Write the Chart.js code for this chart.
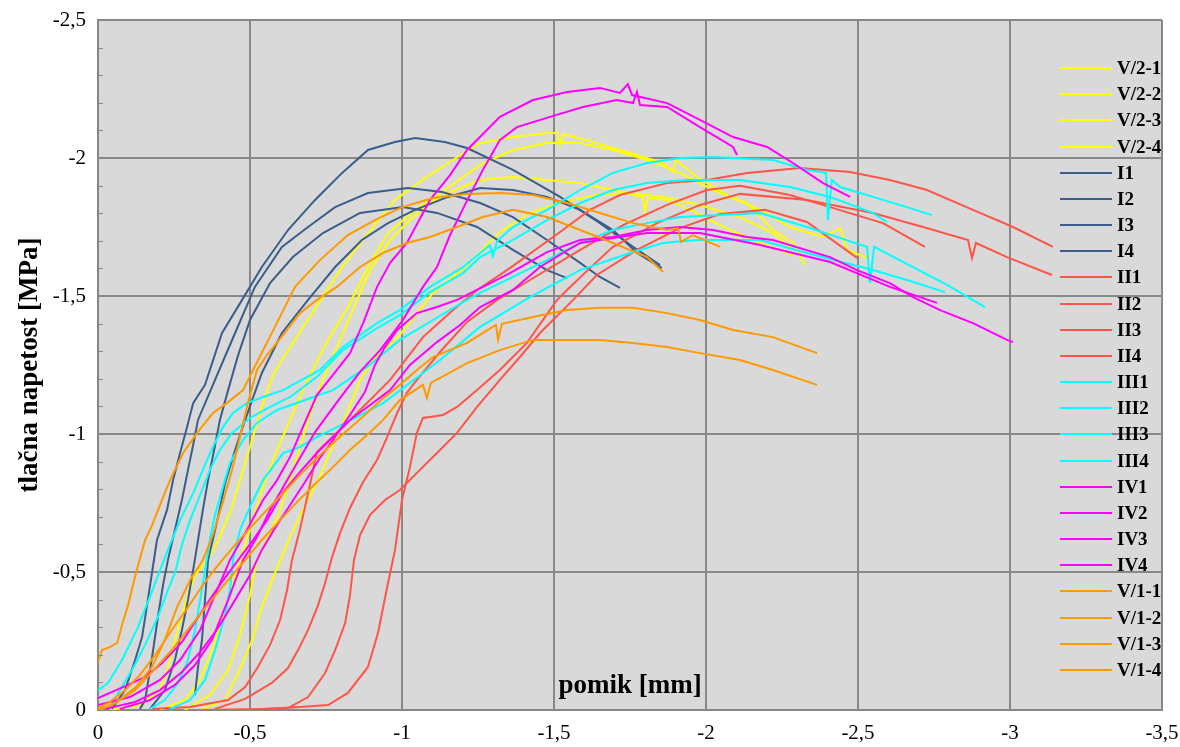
<!DOCTYPE html>
<html lang="sl">
<head>
<meta charset="utf-8">
<title>Tlačna napetost – pomik</title>
<script src="https://cdn.jsdelivr.net/npm/chart.js@4.4.1/dist/chart.umd.min.js"></script>
<style>
  html, body { margin: 0; padding: 0; background: #ffffff; }
  #stressChart { display: block; }
</style>
</head>
<body>
<canvas id="stressChart" width="1180" height="747"></canvas>
<script>
// measured curves, [pomik mm, napetost MPa] (compression is negative)
const V2_1 = [[-0.04,0],[-0.138,-0.018],[-0.204,-0.072],[-0.23,-0.152],[-0.253,-0.254],[-0.286,-0.38],[-0.319,-0.489],[-0.359,-0.543],[-0.391,-0.605],[-0.434,-0.714],[-0.467,-0.833],[-0.5,-0.953],[-0.543,-1.112],[-0.576,-1.214],[-0.605,-1.268],[-0.704,-1.438],[-0.803,-1.605],[-0.888,-1.728],[-0.977,-1.848],[-1.066,-1.92],[-1.151,-1.982],[-1.257,-2.054],[-1.365,-2.076],[-1.477,-2.091],[-1.51,-2.091],[-1.52,-2.047],[-1.53,-2.087],[-1.641,-2.054],[-1.75,-2.018],[-1.859,-1.982],[-1.891,-1.949],[-1.901,-1.993],[-1.97,-1.931],[-2.079,-1.859],[-2.178,-1.812],[-2.276,-1.75],[-2.385,-1.714],[-2.441,-1.746],[-2.464,-1.667],[-2.53,-1.638]];
const V2_2 = [[-0.204,0],[-0.286,-0.036],[-0.336,-0.109],[-0.375,-0.217],[-0.418,-0.362],[-0.457,-0.507],[-0.5,-0.652],[-0.539,-0.797],[-0.582,-0.924],[-0.632,-1.051],[-0.681,-1.178],[-0.747,-1.322],[-0.822,-1.46],[-0.888,-1.605],[-0.954,-1.728],[-1.043,-1.812],[-1.141,-1.884],[-1.257,-1.975],[-1.365,-2.029],[-1.477,-2.054],[-1.586,-2.054],[-1.694,-2.029],[-1.806,-1.993],[-1.914,-1.946],[-2.023,-1.884],[-2.135,-1.837],[-2.22,-1.739],[-2.286,-1.692],[-2.326,-1.612]];
const V2_3 = [[-0.286,0],[-0.368,-0.054],[-0.428,-0.145],[-0.467,-0.272],[-0.5,-0.417],[-0.523,-0.543],[-0.566,-0.641],[-0.599,-0.725],[-0.632,-0.833],[-0.664,-0.953],[-0.697,-1.069],[-0.74,-1.196],[-0.796,-1.341],[-0.845,-1.467],[-0.895,-1.594],[-0.961,-1.703],[-1.026,-1.775],[-1.092,-1.837],[-1.158,-1.877],[-1.257,-1.92],[-1.365,-1.931],[-1.477,-1.92],[-1.586,-1.909],[-1.694,-1.884],[-1.793,-1.859],[-1.799,-1.804],[-1.809,-1.855],[-1.872,-1.848],[-1.97,-1.801],[-2.079,-1.739],[-2.178,-1.692],[-2.286,-1.649]];
const V2_4 = [[-0.336,0],[-0.418,-0.036],[-0.461,-0.134],[-0.507,-0.254],[-0.539,-0.373],[-0.582,-0.496],[-0.632,-0.627],[-0.674,-0.725],[-0.72,-0.822],[-0.763,-0.931],[-0.819,-1.076],[-0.862,-1.196],[-0.905,-1.268],[-0.993,-1.359],[-1.102,-1.511],[-1.214,-1.612],[-1.322,-1.732],[-1.421,-1.801],[-1.53,-1.841],[-1.641,-1.866],[-1.75,-1.873],[-1.859,-1.859],[-1.98,-1.83],[-2.112,-1.786],[-2.22,-1.728],[-2.276,-1.678]];

const I1 = [[-0.046,-0.004],[-0.089,-0.072],[-0.122,-0.181],[-0.145,-0.264],[-0.164,-0.399],[-0.178,-0.5],[-0.194,-0.616],[-0.227,-0.725],[-0.247,-0.833],[-0.27,-0.931],[-0.293,-1.025],[-0.313,-1.112],[-0.352,-1.178],[-0.408,-1.366],[-0.474,-1.486],[-0.539,-1.605],[-0.625,-1.739],[-0.714,-1.848],[-0.803,-1.946],[-0.888,-2.029],[-0.977,-2.058],[-1.043,-2.072],[-1.141,-2.058],[-1.214,-2.036],[-1.365,-1.957],[-1.52,-1.859],[-1.651,-1.764],[-1.76,-1.678],[-1.849,-1.612]];
const I2 = [[-0.138,-0.004],[-0.155,-0.036],[-0.178,-0.192],[-0.197,-0.337],[-0.214,-0.453],[-0.23,-0.543],[-0.253,-0.652],[-0.276,-0.761],[-0.296,-0.87],[-0.313,-0.96],[-0.329,-1.051],[-0.385,-1.196],[-0.451,-1.366],[-0.516,-1.533],[-0.605,-1.678],[-0.691,-1.75],[-0.78,-1.822],[-0.888,-1.873],[-1.02,-1.891],[-1.132,-1.877],[-1.257,-1.837],[-1.365,-1.786],[-1.477,-1.703],[-1.586,-1.62],[-1.651,-1.569],[-1.717,-1.529]];
const I3 = [[-0.171,-0.004],[-0.22,-0.072],[-0.253,-0.181],[-0.276,-0.29],[-0.296,-0.399],[-0.313,-0.507],[-0.329,-0.616],[-0.345,-0.725],[-0.362,-0.833],[-0.382,-0.942],[-0.401,-1.051],[-0.428,-1.159],[-0.461,-1.286],[-0.5,-1.413],[-0.566,-1.547],[-0.641,-1.641],[-0.74,-1.728],[-0.862,-1.801],[-1.003,-1.822],[-1.115,-1.801],[-1.247,-1.75],[-1.365,-1.667],[-1.477,-1.594],[-1.543,-1.565]];
const I4 = [[-0.319,-0.054],[-0.329,-0.156],[-0.342,-0.254],[-0.352,-0.399],[-0.362,-0.543],[-0.395,-0.699],[-0.418,-0.822],[-0.451,-0.942],[-0.484,-1.051],[-0.539,-1.221],[-0.605,-1.366],[-0.691,-1.486],[-0.78,-1.605],[-0.868,-1.703],[-0.954,-1.764],[-1.043,-1.812],[-1.151,-1.859],[-1.257,-1.891],[-1.365,-1.884],[-1.477,-1.859],[-1.586,-1.812],[-1.694,-1.739],[-1.773,-1.656],[-1.855,-1.601]];

const II1 = [[-0.171,-0.004],[-0.303,-0.011],[-0.428,-0.036],[-0.484,-0.083],[-0.526,-0.156],[-0.566,-0.236],[-0.599,-0.326],[-0.622,-0.435],[-0.638,-0.543],[-0.664,-0.652],[-0.697,-0.815],[-0.72,-0.935],[-0.829,-1.051],[-0.961,-1.196],[-1.069,-1.351],[-1.168,-1.449],[-1.247,-1.522],[-1.355,-1.601],[-1.52,-1.732],[-1.618,-1.812],[-1.717,-1.866],[-1.872,-1.909],[-2.003,-1.92],[-2.135,-1.946],[-2.309,-1.964],[-2.474,-1.949],[-2.605,-1.92],[-2.727,-1.884],[-2.878,-1.812],[-3.01,-1.75],[-3.141,-1.678]];
const II2 = [[-0.385,-0.004],[-0.484,-0.04],[-0.572,-0.098],[-0.625,-0.152],[-0.658,-0.217],[-0.691,-0.29],[-0.724,-0.38],[-0.747,-0.46],[-0.77,-0.554],[-0.796,-0.641],[-0.829,-0.732],[-0.872,-0.826],[-0.918,-0.906],[-0.951,-0.989],[-0.984,-1.076],[-1.016,-1.149],[-1.049,-1.196],[-1.125,-1.297],[-1.214,-1.406],[-1.313,-1.486],[-1.421,-1.558],[-1.586,-1.667],[-1.727,-1.757],[-1.872,-1.83],[-2.003,-1.884],[-2.112,-1.899],[-2.276,-1.866],[-2.408,-1.822],[-2.582,-1.764],[-2.72,-1.678]];
const II3 = [[-0.336,0],[-0.533,-0.004],[-0.625,-0.007],[-0.691,-0.047],[-0.747,-0.134],[-0.78,-0.217],[-0.813,-0.315],[-0.829,-0.417],[-0.842,-0.543],[-0.862,-0.634],[-0.895,-0.707],[-0.944,-0.761],[-0.993,-0.797],[-1.059,-0.87],[-1.125,-0.942],[-1.181,-1.004],[-1.247,-1.098],[-1.322,-1.196],[-1.388,-1.279],[-1.454,-1.366],[-1.563,-1.486],[-1.641,-1.576],[-1.773,-1.667],[-1.914,-1.746],[-2.046,-1.797],[-2.194,-1.812],[-2.332,-1.768],[-2.497,-1.638]];
const II4 = [[-0.549,-0.004],[-0.664,-0.011],[-0.757,-0.018],[-0.822,-0.062],[-0.888,-0.156],[-0.921,-0.279],[-0.954,-0.46],[-0.977,-0.58],[-1.0,-0.761],[-1.026,-0.88],[-1.049,-1.004],[-1.069,-1.058],[-1.092,-1.062],[-1.135,-1.069],[-1.181,-1.098],[-1.247,-1.159],[-1.322,-1.232],[-1.411,-1.33],[-1.51,-1.486],[-1.543,-1.522],[-1.618,-1.601],[-1.694,-1.678],[-1.839,-1.764],[-1.98,-1.83],[-2.112,-1.87],[-2.332,-1.848],[-2.549,-1.801],[-2.714,-1.75],[-2.862,-1.703],[-2.875,-1.638],[-2.888,-1.692],[-2.99,-1.641],[-3.138,-1.576]];

const III1 = [[0,-0.072],[-0.033,-0.098],[-0.079,-0.181],[-0.132,-0.301],[-0.188,-0.46],[-0.23,-0.58],[-0.27,-0.688],[-0.313,-0.786],[-0.345,-0.87],[-0.378,-0.953],[-0.411,-1.025],[-0.444,-1.076],[-0.49,-1.112],[-0.543,-1.134],[-0.609,-1.159],[-0.73,-1.232],[-0.806,-1.315],[-0.918,-1.402],[-0.993,-1.449],[-1.092,-1.533],[-1.201,-1.605],[-1.289,-1.685],[-1.299,-1.645],[-1.313,-1.699],[-1.365,-1.75],[-1.477,-1.812],[-1.586,-1.884],[-1.694,-1.946],[-1.806,-1.982],[-1.914,-2.0],[-2.023,-2.004],[-2.22,-1.993],[-2.332,-1.957],[-2.395,-1.946],[-2.401,-1.775],[-2.414,-1.92],[-2.441,-1.895],[-2.549,-1.859],[-2.661,-1.822],[-2.743,-1.793]];
const III2 = [[-0.039,-0.004],[-0.072,-0.072],[-0.112,-0.145],[-0.155,-0.236],[-0.197,-0.337],[-0.23,-0.435],[-0.253,-0.496],[-0.276,-0.598],[-0.303,-0.688],[-0.336,-0.779],[-0.368,-0.87],[-0.401,-0.942],[-0.441,-1.004],[-0.5,-1.058],[-0.566,-1.098],[-0.632,-1.134],[-0.72,-1.207],[-0.806,-1.304],[-0.918,-1.384],[-0.993,-1.431],[-1.092,-1.514],[-1.201,-1.583],[-1.257,-1.641],[-1.365,-1.703],[-1.477,-1.775],[-1.586,-1.837],[-1.694,-1.884],[-1.806,-1.909],[-1.938,-1.92],[-2.112,-1.92],[-2.276,-1.895],[-2.408,-1.859],[-2.549,-1.801],[-2.595,-1.768]];
const III3 = [[-0.171,-0.004],[-0.22,-0.036],[-0.263,-0.098],[-0.296,-0.181],[-0.319,-0.29],[-0.336,-0.399],[-0.352,-0.507],[-0.368,-0.616],[-0.385,-0.707],[-0.408,-0.797],[-0.434,-0.895],[-0.477,-0.978],[-0.523,-1.04],[-0.589,-1.087],[-0.681,-1.123],[-0.773,-1.159],[-0.885,-1.243],[-0.993,-1.341],[-1.102,-1.413],[-1.214,-1.486],[-1.257,-1.511],[-1.365,-1.569],[-1.477,-1.63],[-1.586,-1.692],[-1.694,-1.739],[-1.806,-1.764],[-1.914,-1.786],[-2.178,-1.801],[-2.332,-1.75],[-2.53,-1.678],[-2.539,-1.547],[-2.553,-1.678],[-2.681,-1.605],[-2.793,-1.54],[-2.918,-1.46]];
const III4 = [[-0.237,-0.004],[-0.303,-0.036],[-0.352,-0.109],[-0.385,-0.217],[-0.418,-0.344],[-0.434,-0.435],[-0.444,-0.543],[-0.467,-0.652],[-0.5,-0.736],[-0.543,-0.833],[-0.609,-0.931],[-0.664,-0.953],[-0.72,-0.989],[-0.786,-1.025],[-0.852,-1.062],[-0.938,-1.112],[-1.026,-1.185],[-1.125,-1.268],[-1.257,-1.388],[-1.421,-1.496],[-1.586,-1.594],[-1.75,-1.656],[-1.859,-1.692],[-1.97,-1.703],[-2.178,-1.703],[-2.332,-1.656],[-2.549,-1.594],[-2.661,-1.558],[-2.786,-1.514]];

const IV1 = [[0,-0.018],[-0.105,-0.047],[-0.204,-0.109],[-0.27,-0.181],[-0.336,-0.29],[-0.385,-0.417],[-0.434,-0.543],[-0.49,-0.652],[-0.543,-0.761],[-0.589,-0.833],[-0.632,-0.917],[-0.674,-1.025],[-0.72,-1.141],[-0.773,-1.214],[-0.829,-1.293],[-0.872,-1.402],[-0.918,-1.533],[-0.961,-1.62],[-1.016,-1.692],[-1.092,-1.848],[-1.158,-1.938],[-1.214,-2.029],[-1.322,-2.149],[-1.431,-2.21],[-1.543,-2.239],[-1.651,-2.254],[-1.717,-2.236],[-1.743,-2.268],[-1.757,-2.228],[-1.872,-2.199],[-1.98,-2.138],[-2.089,-2.076],[-2.201,-2.04],[-2.286,-1.982],[-2.385,-1.909],[-2.474,-1.859]];
const IV2 = [[-0.072,-0.004],[-0.171,-0.036],[-0.253,-0.091],[-0.319,-0.163],[-0.375,-0.254],[-0.428,-0.399],[-0.477,-0.543],[-0.523,-0.627],[-0.566,-0.725],[-0.632,-0.851],[-0.714,-1.007],[-0.796,-1.13],[-0.862,-1.225],[-0.928,-1.304],[-1.003,-1.413],[-1.069,-1.533],[-1.115,-1.605],[-1.158,-1.721],[-1.207,-1.83],[-1.266,-1.957],[-1.322,-2.065],[-1.378,-2.112],[-1.487,-2.149],[-1.595,-2.185],[-1.707,-2.21],[-1.76,-2.199],[-1.773,-2.239],[-1.783,-2.192],[-1.872,-2.185],[-1.98,-2.112],[-2.089,-2.04],[-2.102,-2.011]];
const IV3 = [[-0.023,-0.004],[-0.122,-0.029],[-0.204,-0.072],[-0.276,-0.138],[-0.336,-0.21],[-0.395,-0.297],[-0.451,-0.399],[-0.5,-0.489],[-0.539,-0.58],[-0.582,-0.659],[-0.632,-0.743],[-0.681,-0.826],[-0.73,-0.913],[-0.78,-0.989],[-0.829,-1.069],[-0.878,-1.152],[-0.911,-1.25],[-0.944,-1.315],[-0.984,-1.377],[-1.049,-1.438],[-1.115,-1.46],[-1.181,-1.486],[-1.266,-1.533],[-1.355,-1.583],[-1.477,-1.659],[-1.586,-1.703],[-1.694,-1.714],[-1.806,-1.739],[-1.914,-1.75],[-2.023,-1.739],[-2.135,-1.714],[-2.22,-1.703],[-2.408,-1.641],[-2.497,-1.594],[-2.605,-1.547],[-2.681,-1.496],[-2.77,-1.449],[-2.878,-1.402],[-2.99,-1.341],[-3.01,-1.333]];
const IV4 = [[0,-0.043],[-0.099,-0.091],[-0.155,-0.12],[-0.211,-0.17],[-0.276,-0.246],[-0.319,-0.319],[-0.362,-0.391],[-0.408,-0.464],[-0.461,-0.543],[-0.51,-0.616],[-0.556,-0.688],[-0.609,-0.79],[-0.664,-0.862],[-0.72,-0.931],[-0.773,-0.989],[-0.829,-1.051],[-0.895,-1.105],[-0.961,-1.159],[-1.026,-1.25],[-1.115,-1.333],[-1.191,-1.395],[-1.257,-1.46],[-1.365,-1.522],[-1.454,-1.605],[-1.53,-1.656],[-1.586,-1.692],[-1.694,-1.71],[-1.806,-1.728],[-1.98,-1.728],[-2.178,-1.685],[-2.408,-1.623],[-2.605,-1.533],[-2.76,-1.475]];

const V1_1 = [[0,-0.174],[-0.013,-0.217],[-0.039,-0.228],[-0.063,-0.243],[-0.079,-0.308],[-0.099,-0.38],[-0.115,-0.453],[-0.132,-0.525],[-0.155,-0.616],[-0.178,-0.67],[-0.204,-0.743],[-0.237,-0.833],[-0.28,-0.931],[-0.326,-1.004],[-0.378,-1.076],[-0.424,-1.112],[-0.477,-1.159],[-0.51,-1.232],[-0.582,-1.388],[-0.648,-1.533],[-0.73,-1.63],[-0.822,-1.721],[-0.911,-1.775],[-1.0,-1.822],[-1.102,-1.855],[-1.214,-1.87],[-1.322,-1.873],[-1.431,-1.866],[-1.543,-1.837],[-1.651,-1.801],[-1.76,-1.764],[-1.872,-1.739],[-1.908,-1.746],[-1.918,-1.696],[-1.957,-1.721],[-2.046,-1.678]];
const V1_2 = [[-0.007,0],[-0.056,-0.025],[-0.122,-0.08],[-0.178,-0.156],[-0.22,-0.254],[-0.26,-0.373],[-0.303,-0.471],[-0.345,-0.543],[-0.378,-0.634],[-0.408,-0.743],[-0.441,-0.87],[-0.467,-0.989],[-0.493,-1.112],[-0.523,-1.232],[-0.556,-1.286],[-0.609,-1.359],[-0.664,-1.438],[-0.72,-1.486],[-0.786,-1.533],[-0.862,-1.605],[-0.938,-1.656],[-1.016,-1.692],[-1.092,-1.714],[-1.181,-1.75],[-1.266,-1.786],[-1.365,-1.812],[-1.477,-1.786],[-1.586,-1.739],[-1.694,-1.692],[-1.806,-1.641],[-1.859,-1.587]];
const V1_3 = [[0,-0.007],[-0.039,-0.029],[-0.089,-0.072],[-0.138,-0.127],[-0.188,-0.199],[-0.243,-0.29],[-0.296,-0.373],[-0.345,-0.453],[-0.395,-0.525],[-0.451,-0.598],[-0.5,-0.659],[-0.556,-0.725],[-0.609,-0.786],[-0.664,-0.851],[-0.72,-0.913],[-0.773,-0.967],[-0.829,-1.022],[-0.885,-1.076],[-0.938,-1.13],[-0.993,-1.178],[-1.049,-1.232],[-1.102,-1.279],[-1.214,-1.33],[-1.309,-1.395],[-1.316,-1.341],[-1.329,-1.399],[-1.431,-1.424],[-1.543,-1.449],[-1.651,-1.457],[-1.76,-1.457],[-1.872,-1.438],[-1.98,-1.413],[-2.089,-1.377],[-2.22,-1.351],[-2.365,-1.293]];
const V1_4 = [[0,0],[-0.056,-0.025],[-0.122,-0.072],[-0.178,-0.138],[-0.237,-0.21],[-0.303,-0.301],[-0.368,-0.391],[-0.428,-0.471],[-0.484,-0.543],[-0.539,-0.616],[-0.599,-0.688],[-0.655,-0.754],[-0.714,-0.819],[-0.773,-0.88],[-0.829,-0.942],[-0.885,-0.996],[-0.938,-1.051],[-0.993,-1.123],[-1.069,-1.178],[-1.082,-1.13],[-1.095,-1.185],[-1.214,-1.257],[-1.322,-1.304],[-1.431,-1.341],[-1.543,-1.341],[-1.651,-1.341],[-1.76,-1.33],[-1.872,-1.315],[-1.98,-1.293],[-2.112,-1.268],[-2.22,-1.232],[-2.365,-1.178]];

const seriesNames = ['V/2-1', 'V/2-2', 'V/2-3', 'V/2-4', 'I1', 'I2', 'I3', 'I4',
  'II1', 'II2', 'II3', 'II4', 'III1', 'III2', 'III3', 'III4',
  'IV1', 'IV2', 'IV3', 'IV4', 'V/1-1', 'V/1-2', 'V/1-3', 'V/1-4'];
const seriesPoints = [V2_1, V2_2, V2_3, V2_4, I1, I2, I3, I4,
  II1, II2, II3, II4, III1, III2, III3, III4,
  IV1, IV2, IV3, IV4, V1_1, V1_2, V1_3, V1_4];

const xTickValues = [0, -0.5, -1, -1.5, -2, -2.5, -3, -3.5];
const yTickValues = [0, -0.5, -1, -1.5, -2, -2.5];

// one colour per test group
const groupColors = {
  'V/2': '#ffff00',
  'I': '#3a5e8c',
  'II': '#ff5549',
  'III': '#00ffff',
  'IV': '#ff00ff',
  'V/1': '#ff9900'
};

const colorFor = (name) => {
  if (name.startsWith('V/2')) return groupColors['V/2'];
  if (name.startsWith('V/1')) return groupColors['V/1'];
  if (name.startsWith('III')) return groupColors['III'];
  if (name.startsWith('IV')) return groupColors['IV'];
  if (name.startsWith('II')) return groupColors['II'];
  return groupColors['I'];
};

const serifFont = "'Liberation Serif', 'Times New Roman', serif";
const gridColor = '#888888';
const decimalComma = (v) => String(Math.round(v * 10) / 10).replace('.', ',');

// grey plot area behind the curves
const plotBackground = {
  id: 'plotBackground',
  beforeDraw(chart) {
    const { ctx, chartArea: a } = chart;
    ctx.save();
    ctx.fillStyle = '#d9d9d9';
    ctx.fillRect(a.left, a.top, a.right - a.left, a.bottom - a.top);
    ctx.restore();
  }
};

// small inside ticks every 0,1 MPa on the stress axis
const minorTicks = {
  id: 'minorTicks',
  afterDraw(chart) {
    const { ctx, chartArea: a, scales } = chart;
    ctx.save();
    ctx.strokeStyle = gridColor;
    ctx.lineWidth = 1;
    for (let i = 1; i < 25; i++) {
      if (i % 5 === 0) continue;
      const y = Math.round(scales.y.getPixelForValue(-i / 10)) + 0.5;
      ctx.beginPath();
      ctx.moveTo(a.left, y);
      ctx.lineTo(a.left + 5, y);
      ctx.stroke();
    }
    ctx.restore();
  }
};

// axis titles: y rotated left of the axis, x written inside the plot
const axisTitles = {
  id: 'axisTitles',
  afterDraw(chart) {
    const { ctx, chartArea: a } = chart;
    ctx.save();
    ctx.fillStyle = '#000000';
    ctx.font = 'bold 27px ' + serifFont;
    ctx.textAlign = 'center';
    ctx.textBaseline = 'middle';
    ctx.fillText('pomik [mm]', (a.left + a.right) / 2, a.bottom - 24);
    ctx.translate(30, (a.top + a.bottom) / 2);
    ctx.rotate(-Math.PI / 2);
    ctx.fillText('tlačna napetost [MPa]', 0, 0);
    ctx.restore();
  }
};

// legend drawn over the right part of the plot, no box
const insideLegend = {
  id: 'insideLegend',
  afterDraw(chart) {
    const { ctx, chartArea: a } = chart;
    const x0 = a.right - 102;
    const y0 = a.top + 48;
    const step = 26.17;
    ctx.save();
    ctx.font = 'bold 19px ' + serifFont;
    ctx.textBaseline = 'middle';
    ctx.textAlign = 'left';
    chart.data.datasets.forEach((ds, i) => {
      const y = Math.round(y0 + i * step);
      ctx.strokeStyle = ds.borderColor;
      ctx.lineWidth = 2;
      ctx.beginPath();
      ctx.moveTo(x0, y);
      ctx.lineTo(x0 + 52, y);
      ctx.stroke();
      ctx.fillStyle = '#000000';
      ctx.fillText(ds.label, x0 + 57, y + 1);
    });
    ctx.restore();
  }
};

const datasets = seriesPoints.map((pts, i) => ({
  label: seriesNames[i],
  data: pts.map(([x, y]) => ({ x, y })),
  borderColor: colorFor(seriesNames[i]),
  backgroundColor: colorFor(seriesNames[i]),
  borderWidth: 2,
  pointRadius: 0,
  showLine: true,
  tension: 0,
  order: -i
}));

new Chart(document.getElementById('stressChart').getContext('2d'), {
  type: 'scatter',
  data: { datasets },
  options: {
    responsive: false,
    animation: false,
    devicePixelRatio: 1,
    layout: { padding: { top: 20, right: 18, left: 0, bottom: 0 } },
    plugins: {
      legend: { display: false },
      tooltip: { enabled: false }
    },
    scales: {
      x: {
        type: 'linear',
        min: -3.5,
        max: 0,
        reverse: true,
        afterBuildTicks: (scale) => { scale.ticks = xTickValues.map(v => ({ value: v })); },
        afterFit: (scale) => {
          scale.height = 37;
          scale.paddingLeft = 0;
          scale.paddingRight = 0;
        },
        grid: { color: gridColor, lineWidth: 2, drawTicks: false },
        border: { color: gridColor, width: 2 },
        ticks: {
          padding: 11,
          color: '#000000',
          font: { family: serifFont, size: 21 },
          maxRotation: 0,
          callback: (v) => decimalComma(v)
        }
      },
      y: {
        type: 'linear',
        min: -2.5,
        max: 0,
        reverse: true,
        afterBuildTicks: (scale) => { scale.ticks = yTickValues.map(v => ({ value: v })); },
        afterFit: (scale) => {
          scale.width = 98;
          scale.paddingTop = 0;
          scale.paddingBottom = 0;
        },
        grid: { color: gridColor, lineWidth: 2, drawTicks: false },
        border: { color: gridColor, width: 2 },
        ticks: {
          padding: 12,
          color: '#000000',
          font: { family: serifFont, size: 21 },
          callback: (v) => decimalComma(v)
        }
      }
    }
  },
  plugins: [plotBackground, minorTicks, axisTitles, insideLegend]
});
</script>
</body>
</html>
